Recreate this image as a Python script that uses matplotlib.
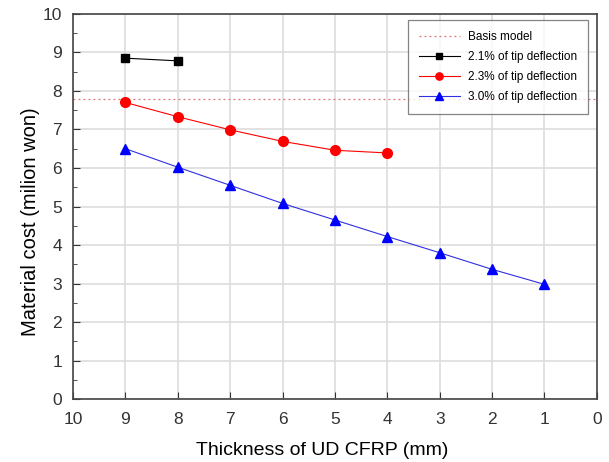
import matplotlib
matplotlib.use("Agg")
import matplotlib.pyplot as plt
from matplotlib.ticker import MultipleLocator

plt.rcParams['font.family'] = ['Liberation Sans', 'DejaVu Sans']

basis_value = 7.78
x_black = [9, 8]
y_black = [8.85, 8.78]
x_red = [9, 8, 7, 6, 5, 4]
y_red = [7.70, 7.33, 6.99, 6.69, 6.46, 6.39]
x_blue = [9, 8, 7, 6, 5, 4, 3, 2, 1]
y_blue = [6.50, 6.02, 5.55, 5.08, 4.65, 4.22, 3.80, 3.37, 2.98]
labels = ["Basis model", "2.1% of tip deflection", "2.3% of tip deflection", "3.0% of tip deflection"]

fig = plt.figure(figsize=(6.09, 4.62), dpi=100)
ax = fig.add_axes([0.12, 0.136, 0.86, 0.834])

ax.axhline(basis_value, color='#e07070', linestyle=(0, (1.5, 2.5)), linewidth=0.9, label=labels[0])
ax.plot(x_black, y_black, color='black', linewidth=0.8, marker='s', markersize=6, label=labels[1])
ax.plot(x_red, y_red, color='red', linewidth=0.8, marker='o', markersize=7, label=labels[2])
ax.plot(x_blue, y_blue, color='#3030e0', linewidth=0.8, marker='^', markersize=7.5,
        markerfacecolor='blue', markeredgecolor='blue', label=labels[3])

ax.set_xlim(10, 0)
ax.set_ylim(0, 10)
ax.xaxis.set_major_locator(MultipleLocator(1))
ax.yaxis.set_major_locator(MultipleLocator(1))
ax.yaxis.set_minor_locator(MultipleLocator(0.5))
ax.tick_params(axis='both', which='both', direction='in', labelsize=12.5, colors='#333333')
ax.tick_params(axis='both', which='major', length=5)
ax.tick_params(axis='x', which='major', pad=9)
ax.tick_params(axis='y', which='major', pad=8)
ax.tick_params(axis='y', which='minor', length=3)
ax.grid(True, which='major', color='#dddddd', linewidth=1.2)
ax.set_axisbelow(True)
for s in ax.spines.values():
    s.set_color('#444444')
    s.set_linewidth(1.2)

ax.set_xlabel("Thickness of UD CFRP (mm)", fontsize=14)
ax.xaxis.set_label_coords(0.475, -0.11)
ax.set_ylabel("Material cost (milion won)", fontsize=14.5)
ax.yaxis.set_label_coords(-0.064, 0.46)

leg = ax.legend(loc='upper right', bbox_to_anchor=(0.983, 0.984), borderaxespad=0,
                fontsize=8.5, frameon=True, fancybox=False, edgecolor='#666666',
                handlelength=3.5, borderpad=0.9, labelspacing=0.7, handletextpad=0.7,
                markerscale=0.75)
leg.get_frame().set_linewidth(0.9)

fig.savefig("out.png", dpi=100)
